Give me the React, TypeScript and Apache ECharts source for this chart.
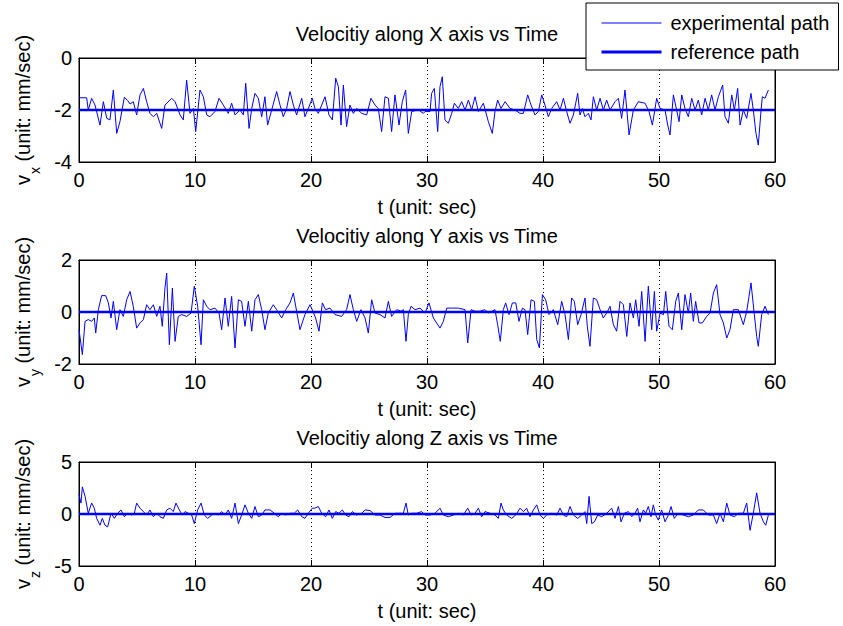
import { useEffect, useRef } from "react";
import * as echarts from "echarts";

// ---------- data ----------
const titles = [
  "Velocitiy along X axis vs Time",
  "Velocitiy along Y axis vs Time",
  "Velocitiy along Z axis vs Time",
];
const axisSubs = ["x", "y", "z"];
const xAxisName = "t (unit: sec)";
const yUnit = " (unit: mm/sec)";
const legendNames = ["experimental path", "reference path"];
const tMin = 0;
const tMax = 60;
const tStep = 10;
// [min, max, interval] for each subplot
const yRanges: [number, number, number][] = [
  [-4, 0, 2],
  [-2, 2, 2],
  [-5, 5, 5],
];
const referenceValues = [-2, 0, 0];

// experimental velocity samples [t (sec), v (mm/sec)]
const vxSamples: [number, number][] = [
  [0, -1.53], [0.66, -1.53], [0.8, -2.0], [1.09, -1.55], [1.38, -1.81], [1.81, -2.58], [2.1, -1.68], [2.39, -2.32],
  [2.67, -2.38], [2.96, -1.23], [3.25, -2.9], [3.53, -2.45], [3.91, -1.51], [4.2, -1.64], [4.4, -1.77], [4.68, -1.68],
  [4.97, -2.19], [5.26, -1.42], [5.55, -1.17], [5.83, -1.68], [6.12, -2.13], [6.41, -2.26], [6.7, -2.13], [7.13, -2.71],
  [7.41, -1.81], [7.99, -1.55], [8.28, -1.68], [8.71, -2.19], [8.99, -2.38], [9.28, -0.85], [9.57, -2.13], [9.86, -1.94],
  [10.06, -2.83], [10.43, -1.23], [10.72, -1.49], [11.01, -2.19], [11.29, -2.26], [11.72, -2.06], [12.07, -1.55],
  [12.44, -1.81], [12.87, -2.13], [13.16, -1.74], [13.45, -2.19], [13.88, -2.0], [14.17, -2.19], [14.37, -0.97],
  [14.66, -2.71], [14.89, -1.94], [15.17, -1.36], [15.46, -1.55], [15.75, -2.26], [16.03, -1.49], [16.26, -2.58],
  [16.61, -2.0], [17.04, -1.29], [17.33, -1.81], [17.61, -2.26], [17.9, -1.94], [18.19, -1.29], [18.48, -1.81],
  [18.76, -2.19], [19.2, -1.55], [19.48, -2.26], [19.77, -1.94], [20.11, -1.55], [20.34, -1.94], [20.63, -2.13],
  [20.92, -1.81], [21.21, -1.49], [21.55, -2.19], [21.84, -2.38], [22.13, -0.78], [22.36, -1.1], [22.59, -2.58],
  [22.79, -1.04], [23.07, -2.64], [23.36, -1.81], [23.65, -2.13], [23.94, -1.94], [24.37, -2.13], [24.8, -2.19],
  [25.17, -1.55], [25.52, -1.81], [25.8, -1.94], [26.09, -2.83], [26.38, -1.49], [26.67, -1.55], [26.95, -2.83],
  [27.24, -1.42], [27.59, -2.58], [27.87, -1.68], [28.16, -1.23], [28.39, -2.9], [28.68, -2.06], [29.25, -1.99],
  [29.68, -2.13], [29.83, -2.06], [30.26, -2.06], [30.4, -1.36], [30.63, -1.17], [30.92, -2.83], [31.12, -1.1],
  [31.32, -0.72], [31.55, -2.38], [31.84, -2.51], [32.13, -2.13], [32.36, -1.74], [32.7, -1.94], [32.99, -1.68],
  [33.28, -2.0], [33.57, -1.62], [33.85, -2.0], [34.14, -1.49], [34.43, -2.06], [34.86, -1.74], [35.29, -2.45],
  [35.63, -2.9], [35.86, -2.06], [36.09, -1.62], [36.38, -1.94], [36.73, -1.68], [37.16, -1.94], [37.59, -2.0],
  [38.02, -2.13], [38.31, -2.13], [38.68, -1.42], [38.97, -1.81], [39.31, -2.19], [39.6, -2.06], [39.89, -1.42],
  [40.17, -1.81], [40.46, -2.26], [40.75, -1.94], [41.18, -1.68], [41.47, -2.0], [41.76, -1.55], [42.04, -2.06],
  [42.33, -2.51], [42.62, -2.19], [42.99, -1.36], [43.19, -2.19], [43.39, -1.94], [43.62, -2.26], [43.91, -2.13],
  [44.14, -2.38], [44.34, -1.49], [44.63, -2.0], [44.92, -1.55], [45.2, -2.0], [45.49, -1.62], [45.78, -2.0],
  [46.21, -1.68], [46.5, -1.55], [46.78, -2.32], [47.07, -1.23], [47.42, -2.96], [47.79, -2.0], [48.22, -1.68],
  [48.8, -1.74], [49.14, -2.06], [49.43, -2.58], [49.8, -1.55], [50.09, -1.94], [50.52, -2.0], [50.75, -2.58],
  [50.95, -2.96], [51.24, -1.42], [51.52, -2.0], [51.73, -2.45], [51.96, -1.42], [52.24, -1.94], [52.53, -2.26],
  [52.82, -1.55], [53.11, -2.0], [53.39, -1.62], [53.68, -2.19], [53.97, -1.55], [54.25, -2.0], [54.54, -1.42],
  [54.83, -2.0], [55.12, -1.49], [55.49, -1.04], [55.69, -2.26], [55.98, -2.51], [56.27, -1.42], [56.5, -2.0],
  [56.78, -1.17], [56.99, -2.58], [57.27, -2.0], [57.56, -2.32], [57.93, -1.36], [58.13, -2.0], [58.36, -2.9],
  [58.56, -3.35], [58.8, -2.0], [58.91, -1.49], [59.14, -1.55], [59.43, -1.23],
];

const vySamples: [number, number][] = [
  [0, -0.68], [0.29, -1.64], [0.52, -0.36], [0.8, -0.29], [1.09, -0.36], [1.32, -0.23], [1.44, -0.81], [1.67, 0.09],
  [1.95, 0.63], [2.3, 0.63], [2.53, 0.35], [2.76, -0.23], [2.96, 0.41], [3.25, -0.68], [3.53, 0.09], [3.82, -0.17],
  [4.11, 0.47], [4.4, 0.79], [4.68, 0.22], [4.97, -0.62], [5.26, -0.42], [5.55, -0.29], [5.83, 0.28], [6.12, 0.09],
  [6.41, 0.28], [6.7, -0.17], [6.98, 0.22], [7.18, -0.55], [7.41, 0.92], [7.56, 1.5], [7.79, -1.26], [8.05, 0.92],
  [8.28, -1.13], [8.56, -0.17], [8.85, -0.1], [9.28, -0.17], [9.66, -0.04], [9.94, 0.99], [10.23, 0.22], [10.52, -1.26],
  [10.72, 0.47], [11.01, 0.22], [11.29, 0.09], [11.72, 0.15], [12.07, -0.04], [12.3, -0.68], [12.59, 0.54],
  [12.87, -0.55], [13.16, 0.6], [13.45, -1.38], [13.74, 0.47], [14.02, 0.41], [14.31, -0.55], [14.6, 0.41],
  [14.89, -0.74], [15.17, 0.47], [15.46, 0.67], [15.75, 0.09], [16.03, -0.68], [16.32, -0.04], [16.75, 0.28],
  [17.04, 0.09], [17.47, -0.23], [17.82, 0.09], [18.19, 0.35], [18.48, 0.73], [18.76, 0.03], [19.05, -0.68],
  [19.48, -0.1], [19.91, 0.28], [20.11, 0.09], [20.4, -0.23], [20.69, -0.74], [20.98, 0.35], [21.26, 0.09],
  [21.64, 0.15], [22.07, -0.1], [22.64, -0.17], [23.07, 0.09], [23.36, 0.67], [23.65, 0.09], [23.94, -0.36],
  [24.31, 0.09], [24.66, -0.23], [24.94, -0.81], [25.23, 0.47], [25.52, -0.04], [25.95, -0.1], [26.38, -0.23],
  [26.67, 0.41], [26.95, -0.17], [27.39, 0.09], [27.76, 0.03], [27.96, 0.09], [28.19, -1.13], [28.39, -0.1],
  [28.62, 0.22], [28.97, 0.09], [29.4, 0.15], [29.83, -0.04], [30.17, 0.35], [30.55, -0.23], [31.12, -0.62],
  [31.41, -0.36], [31.7, 0.15], [32.13, 0.15], [32.7, 0.15], [33.28, 0.09], [33.51, -1.19], [33.8, 0.09],
  [34.14, 0.03], [34.57, 0.03], [35.0, 0.09], [35.29, -0.04], [35.86, 0.09], [36.09, -0.49], [36.32, -1.13],
  [36.58, 0.09], [36.78, 0.35], [37.07, -0.1], [37.36, 0.35], [37.65, 0.35], [37.93, -0.36], [38.22, 0.15],
  [38.45, 0.09], [38.68, -0.87], [38.97, 0.47], [39.26, 0.41], [39.46, -1.06], [39.69, -1.38], [39.95, 0.67],
  [40.23, 0.47], [40.52, -0.1], [40.89, 0.09], [41.27, -0.49], [41.61, 0.41], [41.9, -0.1], [42.19, -1.06],
  [42.47, 0.54], [42.7, 0.41], [42.99, -0.49], [43.28, -0.1], [43.62, 0.54], [43.82, -0.55], [44.05, -1.32],
  [44.34, 0.54], [44.63, 0.47], [44.92, 0.09], [45.2, -0.23], [45.49, -0.04], [45.78, 0.22], [46.07, -0.49],
  [46.35, -0.74], [46.64, 0.41], [46.93, 0.28], [47.22, -0.94], [47.5, 0.35], [47.79, -0.23], [47.99, 0.47],
  [48.28, -0.55], [48.51, 0.79], [48.8, -1.13], [49.08, 0.99], [49.37, -0.68], [49.6, 0.79], [49.8, -0.74],
  [50.09, -0.04], [50.38, -0.1], [50.58, 0.79], [50.86, -0.55], [51.15, -0.68], [51.44, 0.41], [51.67, 0.73],
  [51.96, -0.68], [52.24, 0.67], [52.53, -0.04], [52.73, 0.73], [52.96, -0.36], [53.16, 0.41], [53.45, -0.42],
  [53.74, -0.42], [54.11, -0.17], [54.4, -0.04], [54.69, 0.73], [54.97, 1.05], [55.26, -0.1], [55.55, -0.42],
  [55.84, -1.0], [56.12, -0.68], [56.41, 0.09], [56.84, 0.09], [57.27, -0.49], [57.56, 0.03], [57.76, 0.6],
  [57.93, 1.12], [58.22, -0.1], [58.42, -0.94], [58.56, -1.32], [58.85, -0.1], [59.14, 0.22], [59.43, -0.1],
];

const vzSamples: [number, number][] = [
  [0, 1.86], [0.17, 1.05], [0.29, 2.61], [0.52, 1.7], [0.8, 0.07], [1.09, 1.05], [1.32, 0.56], [1.52, -0.42],
  [1.81, -1.08], [2.01, -0.42], [2.24, -1.08], [2.47, -1.24], [2.76, 0.07], [3.05, -0.42], [3.33, 0.07], [3.62, 0.39],
  [3.91, -0.26], [4.2, 0.07], [4.54, -0.1], [4.77, 0.07], [4.97, 1.05], [5.26, 0.56], [5.55, 0.23], [5.83, -0.1],
  [6.12, 0.39], [6.41, -0.26], [6.7, 0.07], [6.98, -0.26], [7.27, -0.42], [7.56, 0.39], [7.84, 0.56], [8.13, 0.23],
  [8.36, 1.05], [8.65, 0.39], [8.91, -0.1], [9.14, 0.23], [9.43, 0.07], [9.71, -0.1], [9.94, -0.92], [10.23, 0.39],
  [10.52, 1.05], [10.8, -0.1], [11.09, -0.42], [11.44, -0.1], [11.72, 0.07], [12.01, -0.1], [12.3, 0.23],
  [12.59, -0.1], [12.87, 0.39], [13.16, -0.42], [13.45, 1.05], [13.74, -0.92], [14.02, -0.1], [14.31, 0.88],
  [14.6, 0.07], [14.89, -0.42], [15.17, 0.72], [15.46, -0.26], [15.75, -0.1], [16.03, 0.39], [16.47, 0.39],
  [16.84, 0.07], [17.18, -0.26], [17.47, 0.07], [17.82, -0.1], [18.19, 0.07], [18.56, 0.07], [18.85, 0.39],
  [19.2, -0.26], [19.48, -0.42], [19.77, 0.07], [20.11, 0.56], [20.34, 0.56], [20.63, 0.72], [20.92, 0.07],
  [21.26, -0.26], [21.55, 0.39], [21.84, -0.42], [22.13, 0.23], [22.41, 0.07], [22.7, 0.39], [22.99, -0.1],
  [23.28, -0.26], [23.56, 0.23], [23.94, -0.1], [24.37, 0.07], [24.66, 0.39], [25.09, 0.33], [25.52, -0.1],
  [25.95, -0.1], [26.38, -0.33], [26.81, -0.33], [27.24, 0.07], [27.67, 0.07], [27.96, 0.07], [28.19, 1.05],
  [28.39, -0.1], [28.68, 0.07], [29.11, 0.07], [29.54, 0.23], [29.83, -0.1], [30.26, -0.1], [30.69, 0.07],
  [31.12, 0.56], [31.41, -0.1], [31.84, -0.26], [32.27, -0.1], [32.7, 0.07], [33.13, -0.1], [33.51, 0.56],
  [33.8, -0.1], [34.14, 0.07], [34.43, 0.56], [34.71, -0.26], [35.0, 0.23], [35.43, 0.07], [35.86, -0.1],
  [36.15, -0.42], [36.38, 1.05], [36.58, 0.39], [36.87, -0.1], [37.3, -0.42], [37.65, -0.1], [38.02, 0.56],
  [38.31, 0.23], [38.59, 0.56], [38.88, -0.26], [39.17, 0.39], [39.46, 0.88], [39.74, -0.1], [40.03, -0.42],
  [40.32, -0.1], [40.75, 0.07], [41.18, -0.1], [41.47, 0.56], [41.76, -0.1], [42.04, -0.26], [42.33, 0.72],
  [42.62, -0.1], [42.99, -0.42], [43.34, -0.1], [43.62, 0.23], [43.77, -0.92], [43.97, 1.7], [44.2, -0.92],
  [44.43, -0.75], [44.72, -0.1], [45.06, -0.26], [45.49, 0.07], [45.92, 0.56], [46.21, -0.42], [46.5, 0.72],
  [46.73, -0.75], [47.01, 0.07], [47.36, 0.23], [47.65, -0.26], [47.93, 0.07], [48.16, 0.56], [48.36, -0.75],
  [48.65, 0.39], [48.85, 0.07], [49.08, 0.72], [49.31, -0.26], [49.51, 0.88], [49.71, -0.1], [49.94, -0.59],
  [50.23, 0.39], [50.52, -0.75], [50.81, -0.1], [51.04, 0.72], [51.32, -0.42], [51.67, 0.07], [52.1, -0.1],
  [52.53, -0.26], [52.96, -0.1], [53.39, 0.39], [53.82, 0.39], [54.25, -0.1], [54.69, -0.1], [54.97, -0.92],
  [55.26, 0.07], [55.55, -0.75], [55.84, 1.05], [56.12, -0.1], [56.5, -0.26], [56.84, 0.07], [57.27, 0.07],
  [57.56, 1.05], [57.85, -1.57], [58.13, 0.07], [58.42, 2.03], [58.71, 0.07], [59.0, -0.75], [59.2, -1.08],
  [59.43, -0.1],
];

const experimentalSeries = [vxSamples, vySamples, vzSamples];

// ---------- layout / style ----------
const W = 843;
const H = 626;
const FONT = "'Liberation Sans', Arial, Helvetica, sans-serif";
const GRID_LEFT = 79;
const GRID_WIDTH = 696;
const GRID_TOPS = [58, 260, 462];
const GRID_HEIGHT = 104;
const TITLE_OFFSET = 24;
const BLUE = "#0000ff";
const EXP_WIDTH = 1;
const REF_WIDTH = 2.5;

export default function App() {
  const ref = useRef<HTMLDivElement | null>(null);

  useEffect(() => {
    if (!ref.current) return;
    const chart = echarts.init(ref.current, undefined, { renderer: "svg" });

    const grid = GRID_TOPS.map((top) => ({
      left: GRID_LEFT,
      top,
      width: GRID_WIDTH,
      height: GRID_HEIGHT,
      show: true,
      borderColor: "#000",
      borderWidth: 1,
      backgroundColor: "#fff",
    }));

    const xAxis: any[] = [];
    const yAxis: any[] = [];
    GRID_TOPS.forEach((_, i) => {
      xAxis.push({
        gridIndex: i,
        type: "value",
        min: tMin,
        max: tMax,
        interval: tStep,
        position: "bottom",
        axisLine: { show: true, onZero: false, lineStyle: { color: "#000", width: 1 } },
        axisTick: { show: true, inside: true, length: 6, lineStyle: { color: "#000" } },
        axisLabel: { fontSize: 20, color: "#000", fontFamily: FONT, margin: 8 },
        splitLine: { show: true, lineStyle: { color: "#000", width: 1, type: [1, 3] } },
        name: xAxisName,
        nameLocation: "middle",
        nameGap: 35,
        nameTextStyle: { fontSize: 20, color: "#000", fontFamily: FONT },
      });
      xAxis.push({
        gridIndex: i,
        type: "value",
        min: tMin,
        max: tMax,
        interval: tStep,
        position: "top",
        axisLine: { show: true, onZero: false, lineStyle: { color: "#000", width: 1 } },
        axisTick: { show: true, inside: true, length: 6, lineStyle: { color: "#000" } },
        axisLabel: { show: false },
        splitLine: { show: false },
      });
      const [mn, mx, iv] = yRanges[i];
      yAxis.push({
        gridIndex: i,
        type: "value",
        min: mn,
        max: mx,
        interval: iv,
        position: "left",
        axisLine: { show: true, onZero: false, lineStyle: { color: "#000", width: 1 } },
        axisTick: { show: true, inside: true, length: 6, lineStyle: { color: "#000" } },
        axisLabel: { fontSize: 20, color: "#000", fontFamily: FONT, margin: 7 },
        splitLine: { show: false },
      });
      yAxis.push({
        gridIndex: i,
        type: "value",
        min: mn,
        max: mx,
        interval: iv,
        position: "right",
        axisLine: { show: true, onZero: false, lineStyle: { color: "#000", width: 1 } },
        axisTick: { show: true, inside: true, length: 6, lineStyle: { color: "#000" } },
        axisLabel: { show: false },
        splitLine: { show: false },
      });
    });

    const series: any[] = [];
    experimentalSeries.forEach((samples, i) => {
      series.push({
        type: "line",
        name: legendNames[0],
        xAxisIndex: i * 2,
        yAxisIndex: i * 2,
        data: samples,
        symbol: "none",
        showSymbol: false,
        silent: true,
        lineStyle: { color: BLUE, width: EXP_WIDTH },
        itemStyle: { color: BLUE },
        z: 2,
      });
      series.push({
        type: "line",
        name: legendNames[1],
        xAxisIndex: i * 2,
        yAxisIndex: i * 2,
        data: [
          [tMin, referenceValues[i]],
          [tMax, referenceValues[i]],
        ],
        symbol: "none",
        showSymbol: false,
        silent: true,
        lineStyle: { color: BLUE, width: REF_WIDTH },
        itemStyle: { color: BLUE },
        z: 3,
      });
    });

    const title = titles.map((text, i) => ({
      text,
      left: GRID_LEFT + GRID_WIDTH / 2,
      top: GRID_TOPS[i] - TITLE_OFFSET,
      textAlign: "center",
      textVerticalAlign: "middle",
      padding: 0,
      textStyle: { fontSize: 20, fontWeight: "normal", color: "#000", fontFamily: FONT },
    }));

    const graphic = GRID_TOPS.map((top, i) => ({
      type: "text",
      x: 23,
      y: top + GRID_HEIGHT / 2,
      rotation: Math.PI / 2,
      silent: true,
      style: {
        text: `{v|v}{s|${axisSubs[i]}}{u|${yUnit}}`,
        align: "center",
        verticalAlign: "middle",
        fill: "#000",
        fontFamily: FONT,
        fontSize: 20,
        rich: {
          v: { fontSize: 20, lineHeight: 20, fontFamily: FONT, fill: "#000" },
          s: { fontSize: 14, lineHeight: 14, padding: [24, 0, 0, 1], fontFamily: FONT, fill: "#000" },
          u: { fontSize: 20, lineHeight: 20, fontFamily: FONT, fill: "#000" },
        },
      },
    }));

    chart.setOption({
      animation: false,
      backgroundColor: "#fff",
      title,
      grid,
      xAxis,
      yAxis,
      series,
      graphic,
      legend: {
        data: [
          { name: legendNames[0], lineStyle: { width: EXP_WIDTH, color: BLUE, opacity: 1 } },
          { name: legendNames[1], lineStyle: { width: REF_WIDTH + 0.5, color: BLUE, opacity: 1 } },
        ],
        orient: "vertical",
        left: 586,
        top: 3,
        padding: [10, 9, 8, 14],
        itemWidth: 60,
        itemHeight: 14,
        itemGap: 9,
        backgroundColor: "#fff",
        borderColor: "#000",
        borderWidth: 1,
        borderRadius: 0,
        selectedMode: false,
        itemStyle: { opacity: 0 },
        textStyle: { fontSize: 20, color: "#000", fontFamily: FONT, padding: [0, 0, 0, 4] },
        z: 10,
      },
    });

    return () => {
      chart.dispose();
    };
  }, []);

  return (
    <div
      ref={ref}
      style={{ position: "absolute", left: 0, top: 0, width: W, height: H, background: "#fff" }}
    />
  );
}
